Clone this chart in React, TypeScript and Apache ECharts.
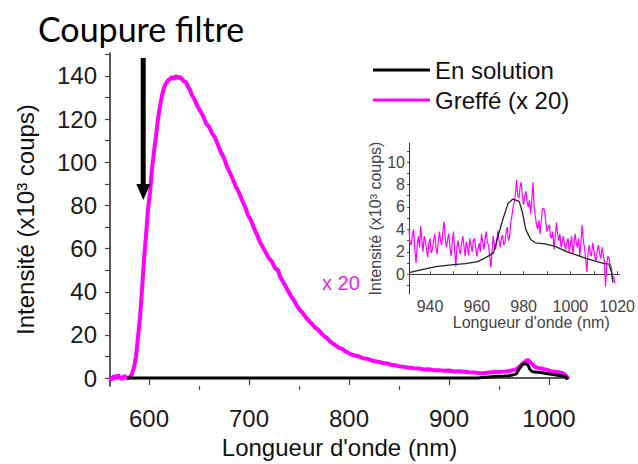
import React, { useEffect, useRef } from "react";
import * as echarts from "echarts";

const FONT = "Liberation Sans, Arial, sans-serif";

// Main spectrum, grafted sample (x 20), [nm, x10^3 counts]
const greffeMain: [number, number][] = [
  [561, 0.5], [563, -0.8], [565, 1.2], [567, -0.3], [569, 1.5], [571, 0.2], [573, -0.5], [575, 1.0], [577, 0.3], [579, -0.2],
  [581, 0.6], [583, 2.0], [585, 5.0], [587, 10], [589, 19], [591, 28], [593, 41], [595, 55], [597, 66], [599, 78],
  [601, 86], [603, 97], [605, 105], [607, 112], [609, 120], [611, 126], [613, 131], [615, 134.5], [617, 136.5], [619, 138],
  [621, 138.5], [623, 139.5], [625, 138.5], [627, 140], [629, 139], [631, 139.5], [633, 138.5], [635, 137.5], [637, 137], [639, 135],
  [641, 133.5], [643, 131], [645, 129.5], [647, 127.5], [649, 125.5], [651, 124], [654, 121.5], [657, 118], [660, 116.5], [663, 113.5],
  [666, 111.5], [669, 108], [672, 104.5], [675, 102], [678, 98], [681, 95], [684, 92], [687, 88.5], [690, 86], [693, 82.5],
  [696, 79.5], [699, 75.5], [702, 73], [705, 69.5], [708, 66.5], [711, 63], [714, 60.5], [717, 58], [720, 55.5], [723, 54],
  [726, 51], [729, 50], [731, 47], [733, 45.5], [736, 43], [739, 40.5], [742, 38], [745, 36], [748, 33.5], [751, 31.5],
  [754, 30], [757, 28], [760, 26.5], [763, 25], [766, 23.5], [769, 22.5], [772, 21], [775, 19.5], [778, 18.5], [781, 17],
  [784, 16], [787, 15], [790, 14], [793, 13.5], [796, 12.5], [799, 11.8], [802, 11], [806, 10.5], [810, 10], [814, 9.2],
  [818, 9], [822, 8.3], [826, 7.8], [830, 7.5], [834, 7], [838, 6.8], [842, 6.2], [846, 6], [850, 5.5], [855, 5.2],
  [860, 4.8], [865, 4.6], [870, 4.5], [875, 4], [880, 4.1], [885, 3.6], [890, 3.7], [895, 3.4], [900, 3.5], [905, 3.1],
  [910, 3.2], [915, 2.9], [920, 2.7], [925, 2.6], [930, 2.4], [934, 2.3], [940, 2.6], [945, 2.8], [951, 2.8], [955, 3],
  [960, 3.3], [965, 3.8], [968, 4.3], [971, 5.5], [974, 6.9], [977, 8], [979, 8.4], [981, 7.5], [984, 6.1], [987, 5],
  [990, 4.6], [994, 4.3], [998, 3.8], [1002, 3.2], [1008, 2.8], [1012, 2.5], [1015, 2], [1017, 1], [1019, 0],
];

// Solution spectrum [nm, x10^3 counts]
const solutionMain: [number, number][] = [
  [578, 0], [930, 0],
];
const solutionInset: [number, number][] = [
  [931, 0.15], [936, 0.4], [942.5, 0.68], [949, 0.83], [955, 0.95], [960, 1.1], [963, 1.4], [966, 1.75], [967.2, 1.95],
  [969.2, 3.5], [971.3, 5.0], [973.3, 6.3], [975.4, 6.7], [978.1, 6.5], [979.5, 5.5], [980.9, 4.0], [983, 3.1], [985, 2.8],
  [989, 2.7], [993.2, 2.5], [998.7, 2.0], [1006.9, 1.4], [1013.8, 1.0], [1016.5, 0.9], [1017.6, 0.15], [1018.2, -0.75],
];

// Inset, grafted sample [nm, x10^3 counts]
const greffeInset: [number, number][] = [
  [931, 3.9], [931.5, 2.8], [932, 2.6], [932.5, 3.6], [933, 4.0], [933.5, 2.2], [934, 1.0], [934.5, 2.6], [935, 3.4], [935.5, 2.4],
  [936, 4.3], [936.5, 3.1], [937, 2.0], [937.5, 3.4], [938, 3.0], [938.5, 2.2], [939, 1.5], [939.5, 2.8], [940, 3.2], [940.5, 1.9],
  [941, 2.2], [941.5, 3.0], [942, 3.6], [942.5, 2.4], [943, 1.8], [943.5, 2.9], [944, 3.8], [944.5, 3.0], [945, 2.6], [945.5, 3.9],
  [946, 4.7], [946.5, 3.2], [947, 2.4], [947.5, 3.1], [948, 3.6], [948.5, 2.5], [949, 1.6], [949.5, 2.9], [950, 3.8], [950.5, 2.2],
  [951, 0.7], [951.5, 2.4], [952, 3.0], [952.5, 2.1], [953, 1.8], [953.5, 2.8], [954, 3.4], [954.5, 2.5], [955, 1.6], [955.5, 2.9],
  [956, 2.3], [956.5, 1.7], [957, 3.2], [957.5, 2.6], [958, 2.0], [958.5, 3.0], [959, 3.2], [959.5, 2.4], [960, 1.6], [960.5, 2.2],
  [961, 2.8], [961.5, 2.0], [962, 3.6], [962.5, 2.9], [963, 2.2], [963.5, 3.1], [964, 3.8], [964.5, 2.8], [965, 2.6], [965.5, 1.6],
  [966, 0.6], [966.5, 2.0], [967, 3.4], [967.5, 2.6], [968, 2.2], [968.5, 3.0], [969, 3.9], [969.5, 3.0], [970, 2.4], [970.5, 3.2],
  [971, 3.5], [971.5, 2.6], [972, 2.8], [972.5, 3.7], [973, 4.2], [973.5, 3.0], [974, 3.4], [974.5, 4.6], [975, 5.2], [975.5, 6.0],
  [976, 6.4], [976.5, 7.2], [977, 8.4], [977.5, 7.0], [978, 6.8], [978.5, 7.8], [979, 8.2], [979.5, 6.8], [980, 6.2], [980.5, 7.0],
  [981, 7.4], [981.5, 6.4], [982, 6.0], [982.5, 6.6], [983, 5.4], [983.5, 6.6], [984, 8.2], [984.5, 6.0], [985, 5.2], [985.5, 4.4],
  [986, 4.0], [986.5, 4.8], [987, 3.6], [987.5, 4.6], [988, 5.8], [988.5, 5.9], [989, 5.6], [989.5, 4.6], [990, 3.8], [990.5, 4.2],
  [991, 4.4], [991.5, 3.4], [992, 3.2], [992.5, 3.8], [993, 2.2], [993.5, 3.3], [994, 4.6], [994.5, 3.6], [995, 3.0], [995.5, 3.6],
  [996, 2.4], [996.5, 2.8], [997, 3.4], [997.5, 2.6], [998, 2.2], [998.5, 2.9], [999, 3.2], [999.5, 2.0], [1000, 2.6], [1000.5, 3.4],
  [1001, 1.8], [1001.5, 2.6], [1002, 3.6], [1002.5, 2.8], [1003, 2.4], [1003.5, 3.2], [1004, 1.6], [1004.5, 2.8], [1005, 4.4], [1005.5, 3.0],
  [1006, 2.4], [1006.5, 1.4], [1007, 0.2], [1007.5, 1.8], [1008, 2.6], [1008.5, 1.9], [1009, 1.6], [1009.5, 2.8], [1010, 2.2], [1010.5, 1.5],
  [1011, 1.2], [1011.5, 2.2], [1012, 2.6], [1012.5, 1.8], [1013, 1.4], [1013.5, 2.4], [1014, 1.8], [1014.5, 1.2], [1015, -1.1], [1015.5, 0.8],
  [1016, 1.6], [1016.5, 1.4], [1017, 0.8], [1017.5, 0.6], [1018, -0.4], [1018.5, -0.2], [1019, -0.8],
];

const mainXLabels = [600, 700, 800, 900, 1000];
const mainXMinor = [650, 750, 850, 950];
const mainYLabels = [0, 20, 40, 60, 80, 100, 120, 140];
const mainYTicks = [0, 10, 20, 30, 40, 50, 60, 70, 80, 90, 100, 110, 120, 130, 140, 150];
const insetXLabels = [940, 960, 980, 1000, 1020];
const insetXTicks = [940, 950, 960, 970, 980, 990, 1000, 1010, 1020];
const insetYLabels = [0, 2, 4, 6, 8, 10];
const insetYTicks = [-1, 0, 1, 2, 3, 4, 5, 6, 7, 8, 9, 10, 11];

const SERIES_SOL = "En solution";
const SERIES_GREF = "Greffé (x 20)";
const Y_TITLE = "Intensité (x10³ coups)";
const X_TITLE = "Longueur d'onde (nm)";

const plain = (v: number) => String(v);

export default function App() {
  const ref = useRef<HTMLDivElement>(null);
  useEffect(() => {
    if (!ref.current) return;
    const chart = echarts.init(ref.current, undefined, { renderer: "svg" });
    const option: any = {
      animation: false,
      backgroundColor: "#fff",
      textStyle: { fontFamily: FONT },
      grid: [
        { left: 110, top: 53, width: 459, height: 335 },
        { left: 409, top: 143, width: 219, height: 151 },
      ],
      legend: {
        orient: "vertical",
        left: 373,
        top: 58,
        padding: 0,
        itemGap: 6,
        itemWidth: 57,
        itemHeight: 3,
        icon: "rect",
        data: [SERIES_SOL, SERIES_GREF],
        textStyle: { fontSize: 24, color: "#111", fontFamily: FONT },
      },
      xAxis: [
        {
          type: "value", gridIndex: 0, min: 561, max: 1020,
          axisLine: { lineStyle: { color: "#222", width: 1.5 } },
          axisTick: { customValues: mainXLabels, length: 7, lineStyle: { color: "#444", width: 1.2 } },
          axisLabel: { customValues: mainXLabels, formatter: plain, fontSize: 24, color: "#1a1a1a", margin: 20, fontFamily: FONT },
          splitLine: { show: false },
          name: X_TITLE, nameLocation: "middle", nameGap: 47,
          nameTextStyle: { fontSize: 24, color: "#111", fontFamily: FONT },
        },
        {
          type: "value", gridIndex: 0, min: 561, max: 1020, position: "bottom",
          axisLine: { show: false },
          axisTick: { customValues: mainXMinor, length: 4, lineStyle: { color: "#444", width: 1.2 } },
          axisLabel: { show: false },
          splitLine: { show: false },
        },
        {
          type: "value", gridIndex: 1, min: 931, max: 1021,
          axisLine: { lineStyle: { color: "#333", width: 1 } },
          axisTick: { customValues: insetXTicks, inside: true, length: 3, lineStyle: { color: "#555" } },
          axisLabel: { customValues: insetXLabels, formatter: plain, fontSize: 16, color: "#444", margin: 4, fontFamily: FONT },
          splitLine: { show: false },
          name: X_TITLE, nameLocation: "middle", nameGap: 18,
          nameTextStyle: { fontSize: 16, color: "#444", padding: [0, 0, 0, 34], fontFamily: FONT },
        },
      ],
      yAxis: [
        {
          type: "value", gridIndex: 0, min: -3.7, max: 150.6,
          axisLine: { show: true, lineStyle: { color: "#222", width: 1.5 } },
          axisTick: { show: true, customValues: mainYTicks, length: 5, lineStyle: { color: "#444", width: 1.2 } },
          axisLabel: { customValues: mainYLabels, formatter: plain, fontSize: 24, color: "#1a1a1a", margin: 13, fontFamily: FONT },
          splitLine: { show: false },
          name: Y_TITLE, nameLocation: "middle", nameGap: 73, nameRotate: 90,
          nameTextStyle: { fontSize: 24, color: "#111", fontFamily: FONT },
        },
        {
          type: "value", gridIndex: 1, min: -1.76, max: 11.7,
          axisLine: { show: true, lineStyle: { color: "#333", width: 1 } },
          axisTick: { show: true, customValues: insetYTicks, length: 2, lineStyle: { color: "#555" } },
          axisLabel: { customValues: insetYLabels, formatter: plain, fontSize: 16, color: "#444", margin: 4, fontFamily: FONT },
          splitLine: { show: false },
          name: Y_TITLE, nameLocation: "middle", nameGap: 14, nameRotate: 90,
          nameTextStyle: { fontSize: 16, color: "#444", fontFamily: FONT },
        },
      ],
      series: [
        {
          name: SERIES_GREF, type: "line", xAxisIndex: 0, yAxisIndex: 0,
          data: greffeMain, showSymbol: false, symbol: "none",
          lineStyle: { color: "#ff00ff", width: 4 }, itemStyle: { color: "#ff00ff" }, z: 2,
        },
        {
          name: SERIES_SOL, type: "line", xAxisIndex: 0, yAxisIndex: 0,
          data: [...solutionMain, ...solutionInset], showSymbol: false, symbol: "none",
          lineStyle: { color: "#000", width: 3 }, itemStyle: { color: "#000" }, z: 3,
        },
        {
          name: SERIES_GREF, type: "line", xAxisIndex: 2, yAxisIndex: 1,
          data: greffeInset, showSymbol: false, symbol: "none",
          lineStyle: { color: "#ff00ff", width: 1.2 }, itemStyle: { color: "#ff00ff" }, z: 2,
        },
        {
          name: SERIES_SOL, type: "line", xAxisIndex: 2, yAxisIndex: 1,
          data: solutionInset, showSymbol: false, symbol: "none",
          lineStyle: { color: "#222", width: 1.3 }, itemStyle: { color: "#000" }, z: 3,
        },
      ],
      graphic: [
        { type: "rect", shape: { x: 140.7, y: 58, width: 5, height: 128 }, style: { fill: "#000" }, z: 10 },
        { type: "polygon", shape: { points: [[136.3, 184], [150.3, 184], [143.3, 200]] }, style: { fill: "#000" }, z: 10 },
        {
          type: "text", x: 38, y: 28, z: 10,
          style: { text: "Coupure filtre", fontSize: 34, fontFamily: "Lato, Open Sans, sans-serif", fill: "#000", verticalAlign: "middle" },
        },
        {
          type: "text", x: 322, y: 283, z: 10,
          style: { text: "x 20", fontSize: 20, fontFamily: FONT, fill: "#ee1cee", verticalAlign: "middle" },
        },
      ],
    };
    chart.setOption(option);
    return () => chart.dispose();
  }, []);
  return <div ref={ref} style={{ width: 638, height: 464, position: "absolute", left: 0, top: 0 }} />;
}
